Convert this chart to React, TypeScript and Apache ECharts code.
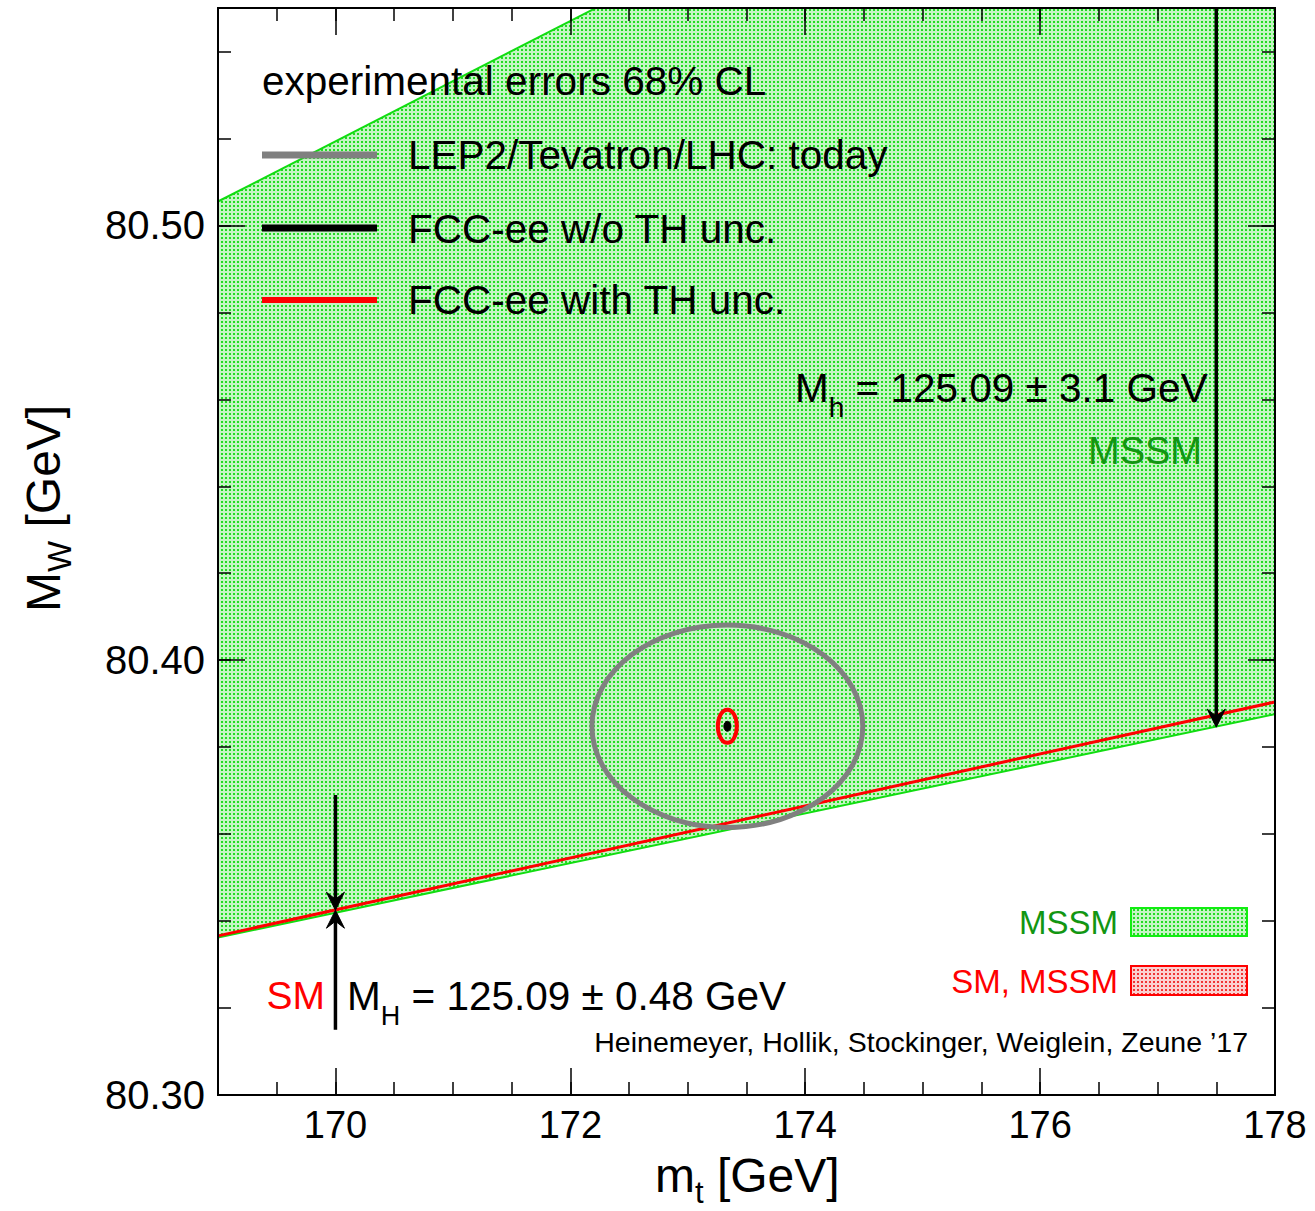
import React, { useEffect, useRef } from 'react';
import * as echarts from 'echarts';

// ---------- data ----------
const X_MIN = 169;
const X_MAX = 178;
const Y_MIN = 80.3;
const Y_MAX = 80.55;
const xMajorTicks = [170, 172, 174, 176, 178];
const yMajorTicks = [80.3, 80.4, 80.5];

// MSSM band (lower / upper edge at the two x ends)
const bandX = [169, 178];
const bandLower = [80.3362, 80.3876];
const bandUpper = [80.5055, 80.63];
// SM line
const smX = [169, 178];
const smLine = [80.3366, 80.3904];

// experimental ellipses: centre and semi-axes
const ellipseCenter = [173.337, 80.3848];
const lepAxes = [1.153, 0.02327];
const fccThAxes = [0.081, 0.0038];
const fccAxes = [0.03, 0.00115];

// arrows
const arrowX = [170, 170, 177.5];
const arrowFrom = [80.369, 80.315, 80.55];
const arrowTo = [80.3425, 80.3425, 80.3846];

const FONT = '"Liberation Sans", Arial, Helvetica, sans-serif';

let measureCtx: CanvasRenderingContext2D | null = null;
function tw(text: string, size: number) {
  if (!measureCtx) measureCtx = document.createElement('canvas').getContext('2d');
  measureCtx!.font = `${size}px ${FONT}`;
  return measureCtx!.measureText(text).width;
}

function makePattern(bg: string, dot: string) {
  const c = document.createElement('canvas');
  c.width = 4;
  c.height = 4;
  const g = c.getContext('2d')!;
  g.fillStyle = bg;
  g.fillRect(0, 0, 4, 4);
  g.fillStyle = dot;
  g.fillRect(1, 1, 2, 2);
  return { image: c, repeat: 'repeat', imageWidth: 4, imageHeight: 4 } as any;
}

type Part = { text: string; size: number; dy?: number };
function compText(x: number, baseline: number, parts: Part[], color = '#000') {
  const els: any[] = [];
  let cx = x;
  for (const p of parts) {
    els.push({
      type: 'text',
      x: cx,
      y: baseline + (p.dy || 0) - 0.3465 * p.size,
      z: 100,
      style: { text: p.text, font: `${p.size}px ${FONT}`, fill: color, align: 'left', verticalAlign: 'middle' },
    });
    cx += tw(p.text, p.size);
  }
  return els;
}

function simpleText(x: number, y: number, text: string, size: number, color: string, align = 'left') {
  return {
    type: 'text',
    x,
    y,
    z: 100,
    style: { text, font: `${size}px ${FONT}`, fill: color, align, verticalAlign: 'middle' },
  };
}

function buildOption() {
  const greenPattern = makePattern('#c4f5c4', '#22dc22');
  const redPattern = makePattern('#fbd0d0', '#f03434');

  const base = (min: number, max: number) => ({
    type: 'value',
    min,
    max,
    z: 10,
    splitLine: { show: false },
    axisLine: { show: true, onZero: false, lineStyle: { color: '#000', width: 2 } },
  });
  const minorTick = { show: true, inside: true, length: 13, lineStyle: { color: '#000', width: 1.5 } };
  const majorTick = (vals: number[]) => ({
    show: true,
    inside: true,
    length: 27,
    customValues: vals,
    lineStyle: { color: '#000', width: 1.5 },
  });

  const xAxis = [
    { ...base(X_MIN, X_MAX), position: 'bottom', interval: 0.5, axisTick: minorTick, axisLabel: { show: false } },
    {
      ...base(X_MIN, X_MAX),
      position: 'bottom',
      interval: 0.5,
      axisTick: majorTick(xMajorTicks),
      axisLabel: { show: true, customValues: xMajorTicks, margin: 11, color: '#000', fontSize: 38, fontFamily: FONT },
    },
    { ...base(X_MIN, X_MAX), position: 'top', interval: 0.5, axisTick: minorTick, axisLabel: { show: false } },
    { ...base(X_MIN, X_MAX), position: 'top', interval: 0.5, axisTick: majorTick(xMajorTicks), axisLabel: { show: false } },
  ];
  const yAxis = [
    { ...base(Y_MIN, Y_MAX), position: 'left', interval: 0.02, axisTick: minorTick, axisLabel: { show: false } },
    {
      ...base(Y_MIN, Y_MAX),
      position: 'left',
      interval: 0.02,
      axisTick: majorTick(yMajorTicks),
      axisLabel: {
        show: true,
        customValues: yMajorTicks,
        margin: 13,
        color: '#000',
        fontSize: 40,
        fontFamily: FONT,
        formatter: (v: number) => v.toFixed(2),
      },
    },
    { ...base(Y_MIN, Y_MAX), position: 'right', interval: 0.02, axisTick: minorTick, axisLabel: { show: false } },
    { ...base(Y_MIN, Y_MAX), position: 'right', interval: 0.02, axisTick: majorTick(yMajorTicks), axisLabel: { show: false } },
  ];

  const bandData = bandX.map((x, i) => [x, bandLower[i], bandUpper[i]]);

  const ellipseSeries = (axes: number[], style: any, z: number) => ({
    type: 'custom',
    xAxisIndex: 0,
    yAxisIndex: 0,
    clip: true,
    z,
    silent: true,
    data: [[ellipseCenter[0], ellipseCenter[1], axes[0], axes[1]]],
    renderItem: (params: any, api: any) => {
      const c = api.coord([api.value(0), api.value(1)]);
      const s = api.size([api.value(2), api.value(3)], [api.value(0), api.value(1)]);
      return { type: 'ellipse', shape: { cx: c[0], cy: c[1], rx: s[0], ry: s[1] }, style };
    },
  });

  const series: any[] = [
    {
      type: 'custom',
      xAxisIndex: 0,
      yAxisIndex: 0,
      clip: true,
      z: 1,
      silent: true,
      data: bandData,
      renderItem: (params: any, api: any) => {
        if (params.dataIndex !== 0) return { type: 'group', children: [] };
        const pts: number[][] = [];
        bandData.forEach((d) => pts.push(api.coord([d[0], d[1]])));
        for (let i = bandData.length - 1; i >= 0; i--) pts.push(api.coord([bandData[i][0], bandData[i][2]]));
        return {
          type: 'group',
          children: [
            { type: 'polygon', shape: { points: pts }, style: { fill: '#a0eca0' } },
            { type: 'polygon', shape: { points: pts }, style: { fill: greenPattern } },
          ],
        };
      },
    },
    {
      type: 'line',
      xAxisIndex: 0,
      yAxisIndex: 0,
      z: 3,
      silent: true,
      showSymbol: false,
      data: bandX.map((x, i) => [x, bandUpper[i]]),
      lineStyle: { color: '#11dd11', width: 2 },
    },
    {
      type: 'line',
      xAxisIndex: 0,
      yAxisIndex: 0,
      z: 3,
      silent: true,
      showSymbol: false,
      data: bandX.map((x, i) => [x, bandLower[i]]),
      lineStyle: { color: '#11dd11', width: 2 },
    },
    {
      type: 'line',
      xAxisIndex: 0,
      yAxisIndex: 0,
      z: 4,
      silent: true,
      showSymbol: false,
      data: smX.map((x, i) => [x, smLine[i]]),
      lineStyle: { color: '#ff0000', width: 3 },
    },
    ellipseSeries(lepAxes, { fill: 'none', stroke: '#808080', lineWidth: 5 }, 5),
    ellipseSeries(fccThAxes, { fill: 'none', stroke: '#ff0000', lineWidth: 4 }, 6),
    ellipseSeries(fccAxes, { fill: '#000', stroke: '#000', lineWidth: 1 }, 7),
    {
      type: 'custom',
      xAxisIndex: 0,
      yAxisIndex: 0,
      clip: true,
      z: 8,
      silent: true,
      data: arrowX.map((x, i) => [x, arrowFrom[i], arrowTo[i]]),
      renderItem: (params: any, api: any) => {
        const p1 = api.coord([api.value(0), api.value(1)]);
        const p2 = api.coord([api.value(0), api.value(2)]);
        const dir = p2[1] > p1[1] ? 1 : -1;
        return {
          type: 'group',
          children: [
            { type: 'line', shape: { x1: p1[0], y1: p1[1], x2: p2[0], y2: p2[1] - dir * 6 }, style: { stroke: '#000', lineWidth: 3.5 } },
            {
              type: 'polygon',
              shape: {
                points: [
                  [p2[0], p2[1]],
                  [p2[0] - 9, p2[1] - dir * 18],
                  [p2[0], p2[1] - dir * 11],
                  [p2[0] + 9, p2[1] - dir * 18],
                ],
              },
              style: { fill: '#000', stroke: '#000', lineWidth: 1 },
            },
          ],
        };
      },
    },
  ];

  // y-axis title (rotated)
  const yTitle = {
    type: 'group',
    x: 60,
    y: 612,
    rotation: Math.PI / 2,
    z: 100,
    children: compText(0, 0, [
      { text: 'M', size: 48 },
      { text: 'W', size: 33, dy: 11 },
      { text: ' [GeV]', size: 48 },
    ]),
  };

  const graphics: any[] = [
    simpleText(262, 81, 'experimental errors 68% CL', 40.5, '#000'),
    { type: 'line', z: 100, shape: { x1: 262, y1: 155, x2: 377, y2: 155 }, style: { stroke: '#808080', lineWidth: 7 } },
    { type: 'line', z: 100, shape: { x1: 262, y1: 228, x2: 377, y2: 228 }, style: { stroke: '#000', lineWidth: 7 } },
    { type: 'line', z: 100, shape: { x1: 262, y1: 300, x2: 377, y2: 300 }, style: { stroke: '#ff0000', lineWidth: 6 } },
    simpleText(408, 155, 'LEP2/Tevatron/LHC: today', 40.5, '#000'),
    simpleText(408, 229, 'FCC-ee w/o TH unc.', 40.5, '#000'),
    simpleText(408, 300, 'FCC-ee with TH unc.', 40.5, '#000'),
    ...compText(795, 402, [
      { text: 'M', size: 40.5 },
      { text: 'h', size: 28, dy: 15 },
      { text: ' = 125.09 \u00b1 3.1 GeV', size: 40.5 },
    ]),
    simpleText(1202, 451, 'MSSM', 38, '#129612', 'right'),
    simpleText(325, 995, 'SM', 39, '#ff0000', 'right'),
    ...compText(347, 1010, [
      { text: 'M', size: 40.5 },
      { text: 'H', size: 27, dy: 15 },
      { text: ' = 125.09 \u00b1 0.48 GeV', size: 40.5 },
    ]),
    simpleText(1248, 1042, 'Heinemeyer, Hollik, Stockinger, Weiglein, Zeune \u201917', 28.5, '#000', 'right'),
    simpleText(1118, 922, 'MSSM', 33, '#129612', 'right'),
    {
      type: 'rect',
      z: 100,
      shape: { x: 1131, y: 908, width: 116, height: 28 },
      style: { fill: greenPattern, stroke: '#11ee11', lineWidth: 2 },
    },
    simpleText(1118, 981, 'SM, MSSM', 33, '#ff0000', 'right'),
    {
      type: 'rect',
      z: 100,
      shape: { x: 1131, y: 966, width: 116, height: 29 },
      style: { fill: redPattern, stroke: '#ff0000', lineWidth: 2 },
    },
    ...compText(655, 1192, [
      { text: 'm', size: 48 },
      { text: 't', size: 31, dy: 11 },
      { text: ' [GeV]', size: 48 },
    ]),
    yTitle,
  ];

  return {
    animation: false,
    backgroundColor: '#fff',
    grid: { left: 218, top: 8, right: 40, bottom: 116, containLabel: false },
    xAxis,
    yAxis,
    series,
    graphic: { elements: graphics },
  };
}

export default function App() {
  const ref = useRef<HTMLDivElement>(null);
  useEffect(() => {
    document.body.style.margin = '0';
    const chart = echarts.init(ref.current!, undefined, { renderer: 'svg' });
    chart.setOption(buildOption() as any);
    return () => chart.dispose();
  }, []);
  return <div ref={ref} style={{ width: 1315, height: 1211 }} />;
}
